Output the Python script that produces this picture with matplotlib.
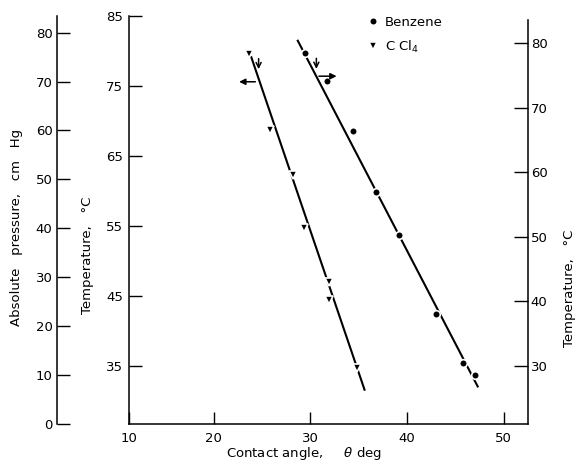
import matplotlib
matplotlib.use('Agg')
import matplotlib.pyplot as plt

# contact angle (deg) vs temperature
ccl4_angle = [23.7, 25.8, 28.2, 29.3, 31.9, 31.9, 34.8]
ccl4_temp = [79.6, 68.7, 62.3, 54.7, 47.0, 44.4, 34.7]          # left temperature scale
benzene_angle = [29.4, 31.7, 34.4, 36.8, 39.2, 43.0, 45.8, 47.0]
benzene_temp = [78.5, 74.1, 66.4, 56.9, 50.3, 38.0, 30.4, 28.6]  # right temperature scale

# fitted lines (end points)
ccl4_fit_angle = [23.9, 35.6]
ccl4_fit_temp = [79.1, 31.6]
benzene_fit_angle = [28.7, 47.3]
benzene_fit_temp = [80.4, 26.8]

x_ticks = [11.2, 20, 30, 40, 50]
x_tick_labels = ['10', '20', '30', '40', '50']
left_temp_ticks = [35, 45, 55, 65, 75, 85]
right_temp_ticks = [30, 40, 50, 60, 70, 80]
pressure_ticks = [0, 10, 20, 30, 40, 50, 60, 70, 80]

FS = 9.5
plt.rcParams['font.family'] = 'DejaVu Sans'
plt.rcParams['font.size'] = FS

fig = plt.figure(figsize=(5.82, 4.70), dpi=100)
ax = fig.add_axes([128.5 / 582, 46 / 470, 399.5 / 582, 408 / 470])
ax2 = ax.twinx()
axp = ax.twinx()

# main axes: contact angle / left temperature
ax.set_xlim(11.2, 52.5)
ax.set_ylim(26.7, 85)
ax.set_xticks(x_ticks)
ax.set_xticklabels(x_tick_labels)
ax.set_yticks(left_temp_ticks)
ax.tick_params(axis='both', direction='in', length=9, width=1.0, labelsize=FS)
ax.tick_params(axis='x', pad=6)
ax.tick_params(axis='y', pad=4)
for s in ['top', 'right']:
    ax.spines[s].set_visible(False)
for s in ['left', 'bottom']:
    ax.spines[s].set_linewidth(1.1)

# right temperature scale
ax2.set_ylim(20.98, 84.23)
ax2.set_yticks(right_temp_ticks)
ax2.tick_params(axis='y', direction='in', length=10, width=1.0, pad=2, labelsize=FS)
for s in ['top', 'left', 'bottom']:
    ax2.spines[s].set_visible(False)
ax2.spines['right'].set_linewidth(1.1)
ax2.spines['right'].set_bounds(20.98, 83.6)

# pressure scale on the far left
axp.set_ylim(0, 83.4)
axp.yaxis.tick_left()
axp.yaxis.set_label_position('left')
axp.set_yticks(pressure_ticks)
for s in ['top', 'right', 'bottom']:
    axp.spines[s].set_visible(False)
axp.spines['left'].set_visible(True)
axp.spines['left'].set_position(('axes', -0.1797))
axp.spines['left'].set_linewidth(1.1)
axp.tick_params(axis='y', direction='in', length=9, width=1.0, pad=3, labelsize=FS)

# fitted lines
ax.plot(ccl4_fit_angle, ccl4_fit_temp, color='black', lw=1.5, zorder=2)
ax2.plot(benzene_fit_angle, benzene_fit_temp, color='black', lw=1.5, zorder=2)

# data points (white edge gives the small breaks in the line)
h_ccl4, = ax.plot(ccl4_angle, ccl4_temp, linestyle='none', marker='v', ms=6,
                  mfc='black', mec='white', mew=1.2, zorder=3, label='C Cl$_4$')
h_benz, = ax2.plot(benzene_angle, benzene_temp, linestyle='none', marker='o', ms=5.5,
                   mfc='black', mec='white', mew=1.2, zorder=3, label='Benzene')

# arrows telling which temperature scale each line uses
ax.annotate('', xy=(22.35, 75.6), xytext=(24.6, 75.6),
            arrowprops=dict(arrowstyle='-|>', color='black', lw=1.1, mutation_scale=9))
ax.annotate('', xy=(24.65, 77.0), xytext=(24.65, 79.3),
            arrowprops=dict(arrowstyle='->', color='black', lw=1.1, mutation_scale=9))
ax2.annotate('', xy=(33.0, 74.9), xytext=(30.6, 74.9),
             arrowprops=dict(arrowstyle='-|>', color='black', lw=1.1, mutation_scale=9))
ax2.annotate('', xy=(30.62, 75.6), xytext=(30.62, 78.1),
             arrowprops=dict(arrowstyle='->', color='black', lw=1.1, mutation_scale=9))

fig.legend(handles=[h_benz, h_ccl4], loc='upper left',
           bbox_to_anchor=(360 / 582, 1 - 9 / 470), frameon=False,
           handlelength=1.0, handletextpad=0.4, labelspacing=0.75,
           borderpad=0, fontsize=FS)

# axis titles
fig.text(304 / 582, 1 - 453 / 470, r'Contact angle,     $\theta$ deg',
         ha='center', va='center', fontsize=FS)
fig.text(17 / 582, 1 - 227 / 470, 'Absolute   pressure,   cm   Hg',
         rotation=90, ha='center', va='center', fontsize=FS)
fig.text(88 / 582, 1 - 255 / 470, 'Temperature,   °C',
         rotation=90, ha='center', va='center', fontsize=FS)
fig.text(569 / 582, 1 - 288 / 470, 'Temperature,   °C',
         rotation=90, ha='center', va='center', fontsize=FS)

fig.savefig('out.png', dpi=100)
